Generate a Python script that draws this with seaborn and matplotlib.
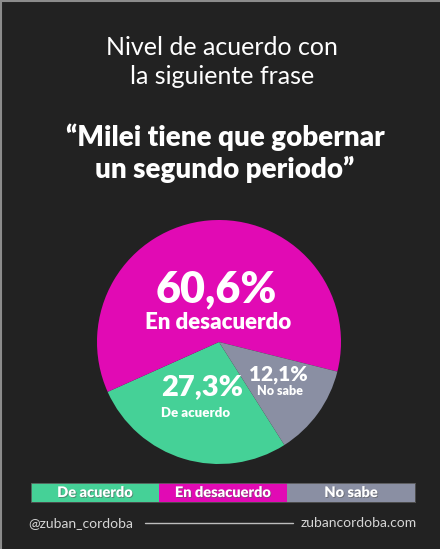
import numpy as np
import seaborn as sns
import matplotlib.pyplot as plt
from matplotlib.colors import ListedColormap
from matplotlib.lines import Line2D
import matplotlib.patheffects as pe

# datos
categorias = ['De acuerdo', 'En desacuerdo', 'No sabe']
valores = [27.3, 60.6, 12.1]
etiquetas_pct = ['27,3%', '60,6%', '12,1%']
colores = ['#45D197', '#E10AB4', '#8A8FA3']

titulo = 'Nivel de acuerdo con\nla siguiente frase'
frase = '\u201cMilei tiene que gobernar\nun segundo periodo\u201d'

fondo = '#222222'
sns.set_theme(style='dark', rc={'axes.facecolor': fondo, 'figure.facecolor': fondo})
plt.rcParams['font.family'] = ['Lato', 'DejaVu Sans']

W, H = 440, 549
fig = plt.figure(figsize=(W / 100, H / 100), dpi=100)
fig.patch.set_facecolor(fondo)

# marco fino arriba / izquierda
fig.add_artist(Line2D([0.5 / W, 0.5 / W], [0, 1], color='#8c8c8c', lw=1.5))
fig.add_artist(Line2D([0, 1], [1 - 0.5 / H, 1 - 0.5 / H], color='#8c8c8c', lw=1.5))

fig.text(222 / W, 1 - 62 / H, titulo, ha='center', va='center', color='white',
         fontsize=18, linespacing=1.3)
fig.text(225 / W, 1 - 153 / H, frase, ha='center', va='center', color='white',
         fontsize=20, fontweight='heavy', linespacing=1.2)

# torta
cx, cy, r = 219, 342, 122
ax = fig.add_axes([(cx - r) / W, 1 - (cy + r) / H, 2 * r / W, 2 * r / H])
ax.pie(valores, colors=colores, startangle=-57.6, counterclock=False, radius=1,
       wedgeprops=dict(linewidth=0))
ax.set_xlim(-1, 1)
ax.set_ylim(-1, 1)
ax.set_aspect('equal')
ax.axis('off')

# etiquetas dentro de la torta
estilo = {
    'De acuerdo':    dict(xy=(-0.475, -0.37), ha='left', s_pct=21, s_cat=9.5, dy=-0.21),
    'En desacuerdo': dict(xy=(-0.02, 0.43), ha='center', s_pct=31, s_cat=16, dy=-0.27),
    'No sabe':       dict(xy=(0.49, -0.27), ha='center', s_pct=15, s_cat=9, dy=-0.13),
}
for cat, pct in zip(categorias, etiquetas_pct):
    e = estilo[cat]
    x, y = e['xy']
    ax.text(x, y, pct, ha=e['ha'], va='center', color='white',
            fontsize=e['s_pct'], fontweight='heavy')
    ax.text(x + (0.01 if e['ha'] == 'center' else 0.0), y + e['dy'], cat,
            ha=e['ha'], va='center', color='white',
            fontsize=e['s_cat'], fontweight='heavy')

# leyenda como franja (heatmap 1x3)
lax = fig.add_axes([31 / W, 1 - 502 / H, 384 / W, 19 / H])
sns.heatmap(np.arange(len(categorias)).reshape(1, -1), ax=lax,
            cmap=ListedColormap(colores), cbar=False,
            annot=np.array([categorias]), fmt='',
            annot_kws=dict(color='white', fontsize=10.5, fontweight='heavy',
                           path_effects=[pe.withSimplePatchShadow(offset=(0.6, -0.6),
                                                                  shadow_rgbFace='#555555',
                                                                  alpha=0.6)]),
            linewidths=0, xticklabels=False, yticklabels=False)
for s in lax.spines.values():
    s.set_visible(True)
    s.set_color('#555555')
    s.set_linewidth(0.6)

# pie de página
fig.text(28 / W, 1 - 523 / H, '@zuban_cordoba', ha='left', va='center',
         color='#d6d6d6', fontsize=10)
fig.text(417 / W, 1 - 523 / H, 'zubancordoba.com', ha='right', va='center',
         color='#d6d6d6', fontsize=10)
fig.add_artist(Line2D([145 / W, 293 / W], [1 - 523 / H, 1 - 523 / H],
                      color='#bdbdbd', lw=1))

fig.savefig('out.png', dpi=100, facecolor=fondo)
